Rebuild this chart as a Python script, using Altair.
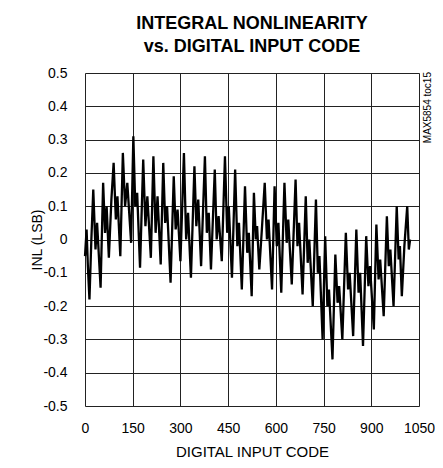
import altair as alt
import pandas as pd

codes = [0, 5, 9, 14, 20, 26, 33, 38, 49, 57, 63, 68, 75, 83, 90, 97, 102, 111, 119, 126, 133, 145, 152,
         158, 164, 173, 183, 190, 196, 207, 215, 222, 228, 238, 246, 252, 258, 269, 279, 285, 291, 300,
         311, 318, 324, 333, 344, 350, 356, 365, 377, 383, 389, 396, 408, 414, 420, 430, 440, 447, 452,
         462, 472, 479, 484, 493, 503, 510, 515, 524, 531, 537, 541, 548, 556, 565, 572, 577, 588, 596,
         603, 608, 617, 627, 634, 639, 650, 662, 668, 673, 684, 694, 700, 705, 716, 726, 732, 737, 747,
         755, 762, 767, 778, 787, 794, 799, 809, 820, 827, 832, 843, 853, 860, 865, 874, 884, 891, 896,
         908, 916, 923, 928, 939, 949, 955, 960, 970, 980, 986, 990, 996, 1004, 1013, 1018, 1022]
inl = [-0.05, 0.03, -0.08, -0.18, 0.0, 0.15, -0.03, 0.05, -0.145, 0.17, 0.02, 0.10, -0.055, 0.12, 0.23,
       0.06, 0.13, -0.05, 0.26, 0.10, 0.17, -0.01, 0.31,
       0.10, 0.14, -0.085, 0.24, 0.04, 0.13, -0.055, 0.25, 0.02, 0.13, -0.075, 0.23, 0.05, 0.10, -0.13,
       0.19, 0.03, 0.09, -0.065,
       0.26, 0.0, 0.08, -0.115, 0.22, 0.04, 0.12, -0.08, 0.25, 0.02, 0.08, -0.09, 0.21, 0.0, 0.07, -0.065,
       0.25, 0.02, 0.10,
       -0.115, 0.21, -0.02, 0.05, -0.15, 0.16, -0.04, 0.02, -0.17, 0.14, 0.0, 0.04, -0.09, 0.03, 0.17,
       0.0, 0.06, -0.15, 0.16,
       -0.02, 0.05, -0.16, 0.17, -0.01, 0.06, -0.135, 0.18, -0.02, 0.05, -0.165, 0.13, -0.07, 0.0, -0.2,
       0.12, -0.1, -0.05, -0.3,
       0.01, -0.2, -0.15, -0.36, -0.045, -0.19, -0.14, -0.3, 0.02, -0.15, -0.1, -0.29, 0.03, -0.16, -0.1,
       -0.32, 0.01, -0.14, -0.08,
       -0.27, 0.045, -0.12, -0.06, -0.23, 0.07, -0.08, -0.03, -0.2, 0.1, -0.06, -0.02, -0.17, -0.02, 0.1,
       -0.03, 0.0]

x_ticks = [0, 150, 300, 450, 600, 750, 900, 1050]
y_ticks = [-0.5, -0.4, -0.3, -0.2, -0.1, 0.0, 0.1, 0.2, 0.3, 0.4, 0.5]

df = pd.DataFrame({"code": codes, "inl": inl})

FONT = "Liberation Sans"
W, H = 334, 333

line = alt.Chart(df).mark_line(color="black", strokeWidth=2.3, strokeJoin="miter").encode(
    x=alt.X("code:Q",
            scale=alt.Scale(domain=[0, 1050], nice=False, zero=False),
            axis=alt.Axis(values=x_ticks, title="DIGITAL INPUT CODE", grid=True, ticks=False,
                          domain=False, labelPadding=15, titlePadding=9, labelFontSize=14,
                          titleFontSize=15, titleFontWeight="normal", labelFont=FONT, titleFont=FONT,
                          labelColor="black", titleColor="black", gridColor="#222", gridWidth=1,
                          labelFlush=False, labelExpr="format(datum.value, 'd')")),
    y=alt.Y("inl:Q",
            scale=alt.Scale(domain=[-0.5, 0.5], nice=False, zero=False),
            axis=alt.Axis(values=y_ticks, title="INL (LSB)", grid=True, ticks=False, domain=False,
                          labelPadding=18, labelFontSize=14, titleFontSize=14,
                          titleFontWeight="normal", labelFont=FONT, titleFont=FONT,
                          labelColor="black", titleColor="black", gridColor="#222", gridWidth=1,
                          labelFlush=False, titleX=-48, titleY=H / 2, titleAngle=270,
                          titleAlign="center", titleBaseline="middle",
                          labelExpr="datum.value == 0 ? '0' : (datum.value < 0 ? '-' + format(-datum.value, '.1f') : format(datum.value, '.1f'))")),
)

side = alt.Chart(pd.DataFrame({"t": ["MAX5854 toc15"]})).mark_text(
    angle=270, align="right", baseline="middle", fontSize=10, font=FONT, color="black"
).encode(text="t:N", x=alt.value(W + 9), y=alt.value(-1))

chart = alt.layer(line, side).properties(
    width=W, height=H,
    autosize=alt.AutoSizeParams(type="none"),
    padding={"left": 77, "top": 65, "right": 16, "bottom": 54},
    title=alt.TitleParams(text=["INTEGRAL NONLINEARITY", "vs. DIGITAL INPUT CODE"], fontSize=18,
                          fontWeight="bold", font=FONT, color="black", lineHeight=23, offset=10,
                          anchor="middle"),
).configure_view(stroke="black", strokeWidth=2.5).configure(background="white")

chart.save("out.html", embed_options={"renderer": "svg", "actions": False})
